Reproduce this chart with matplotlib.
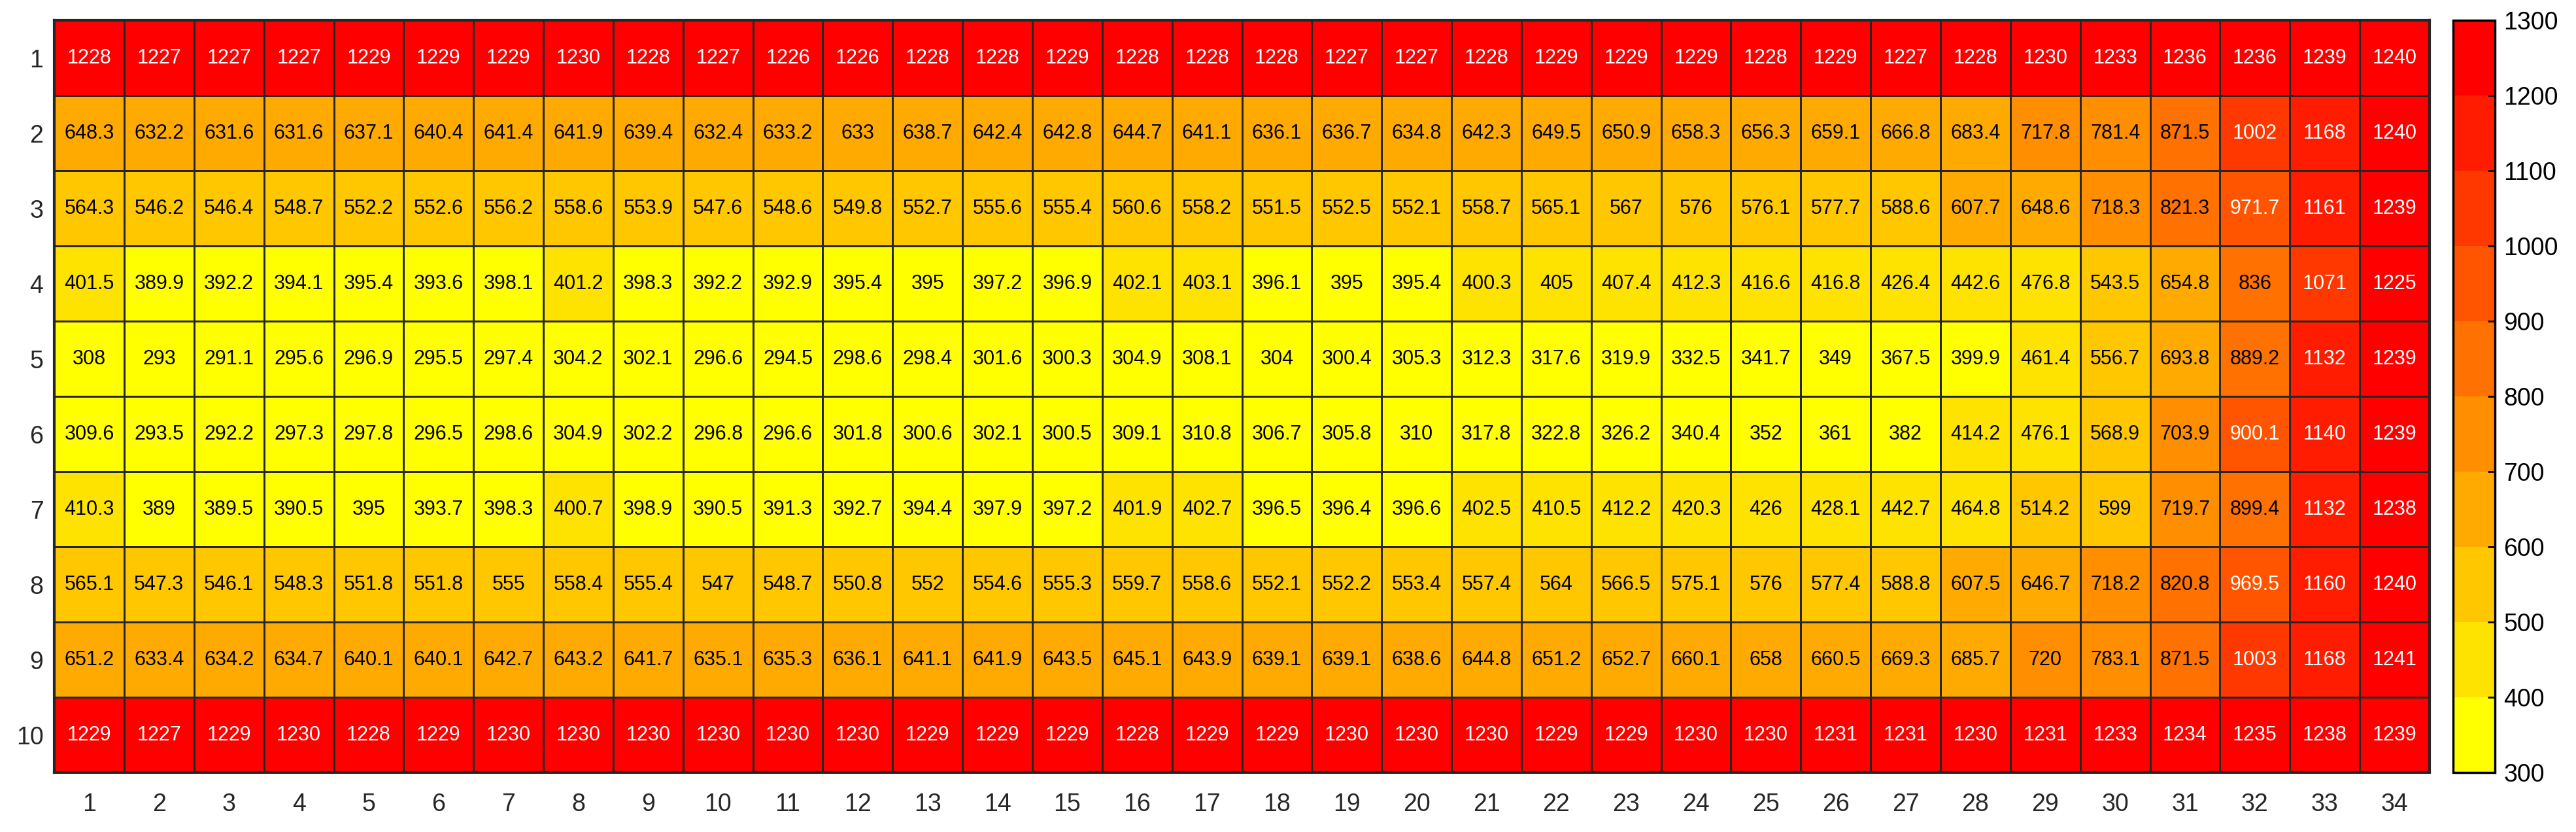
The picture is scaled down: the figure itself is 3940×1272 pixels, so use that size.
import numpy as np
import matplotlib
matplotlib.use('Agg')
import matplotlib.pyplot as plt
from matplotlib.colors import ListedColormap, BoundaryNorm

plt.rcParams['font.family'] = ['Liberation Sans', 'DejaVu Sans']

# valores por fila (fila 1 arriba)
fila1 = [1228, 1227, 1227, 1227, 1229, 1229, 1229, 1230, 1228, 1227, 1226, 1226, 1228, 1228, 1229, 1228, 1228,
         1228, 1227, 1227, 1228, 1229, 1229, 1229, 1228, 1229, 1227, 1228, 1230, 1233, 1236, 1236, 1239, 1240]
fila2 = [648.3, 632.2, 631.6, 631.6, 637.1, 640.4, 641.4, 641.9, 639.4, 632.4, 633.2, 633, 638.7, 642.4, 642.8, 644.7, 641.1,
         636.1, 636.7, 634.8, 642.3, 649.5, 650.9, 658.3, 656.3, 659.1, 666.8, 683.4, 717.8, 781.4, 871.5, 1002, 1168, 1240]
fila3 = [564.3, 546.2, 546.4, 548.7, 552.2, 552.6, 556.2, 558.6, 553.9, 547.6, 548.6, 549.8, 552.7, 555.6, 555.4, 560.6, 558.2,
         551.5, 552.5, 552.1, 558.7, 565.1, 567, 576, 576.1, 577.7, 588.6, 607.7, 648.6, 718.3, 821.3, 971.7, 1161, 1239]
fila4 = [401.5, 389.9, 392.2, 394.1, 395.4, 393.6, 398.1, 401.2, 398.3, 392.2, 392.9, 395.4, 395, 397.2, 396.9, 402.1, 403.1,
         396.1, 395, 395.4, 400.3, 405, 407.4, 412.3, 416.6, 416.8, 426.4, 442.6, 476.8, 543.5, 654.8, 836, 1071, 1225]
fila5 = [308, 293, 291.1, 295.6, 296.9, 295.5, 297.4, 304.2, 302.1, 296.6, 294.5, 298.6, 298.4, 301.6, 300.3, 304.9, 308.1,
         304, 300.4, 305.3, 312.3, 317.6, 319.9, 332.5, 341.7, 349, 367.5, 399.9, 461.4, 556.7, 693.8, 889.2, 1132, 1239]
fila6 = [309.6, 293.5, 292.2, 297.3, 297.8, 296.5, 298.6, 304.9, 302.2, 296.8, 296.6, 301.8, 300.6, 302.1, 300.5, 309.1, 310.8,
         306.7, 305.8, 310, 317.8, 322.8, 326.2, 340.4, 352, 361, 382, 414.2, 476.1, 568.9, 703.9, 900.1, 1140, 1239]
fila7 = [410.3, 389, 389.5, 390.5, 395, 393.7, 398.3, 400.7, 398.9, 390.5, 391.3, 392.7, 394.4, 397.9, 397.2, 401.9, 402.7,
         396.5, 396.4, 396.6, 402.5, 410.5, 412.2, 420.3, 426, 428.1, 442.7, 464.8, 514.2, 599, 719.7, 899.4, 1132, 1238]
fila8 = [565.1, 547.3, 546.1, 548.3, 551.8, 551.8, 555, 558.4, 555.4, 547, 548.7, 550.8, 552, 554.6, 555.3, 559.7, 558.6,
         552.1, 552.2, 553.4, 557.4, 564, 566.5, 575.1, 576, 577.4, 588.8, 607.5, 646.7, 718.2, 820.8, 969.5, 1160, 1240]
fila9 = [651.2, 633.4, 634.2, 634.7, 640.1, 640.1, 642.7, 643.2, 641.7, 635.1, 635.3, 636.1, 641.1, 641.9, 643.5, 645.1, 643.9,
         639.1, 639.1, 638.6, 644.8, 651.2, 652.7, 660.1, 658, 660.5, 669.3, 685.7, 720, 783.1, 871.5, 1003, 1168, 1241]
fila10 = [1229, 1227, 1229, 1230, 1228, 1229, 1230, 1230, 1230, 1230, 1230, 1230, 1229, 1229, 1229, 1228, 1229,
          1229, 1230, 1230, 1230, 1229, 1229, 1230, 1230, 1231, 1231, 1230, 1231, 1233, 1234, 1235, 1238, 1239]

etiquetas_x = [str(i) for i in range(1, 35)]
etiquetas_y = [str(i) for i in range(1, 11)]
niveles = list(range(300, 1400, 100))

datos = np.array([fila1, fila2, fila3, fila4, fila5, fila6, fila7, fila8, fila9, fila10])
n_filas, n_cols = datos.shape

# colormap discreto amarillo -> rojo (10 niveles)
colores = plt.cm.autumn_r(np.linspace(0, 1, 10))
cmap = ListedColormap(colores)
norm = BoundaryNorm(niveles, cmap.N)

fig = plt.figure(figsize=(39.41, 12.72), dpi=100)
ax = fig.add_axes([0.0211, 0.0715, 0.9218, 0.9041])

malla = ax.pcolormesh(np.arange(n_cols + 1) + 0.5, np.arange(n_filas + 1) + 0.5, datos,
                      cmap=cmap, norm=norm, edgecolors='#262626', linewidth=2.0)
ax.set_xlim(0.5, n_cols + 0.5)
ax.set_ylim(n_filas + 0.5, 0.5)

# textos en cada celda
for i in range(n_filas):
    for j in range(n_cols):
        v = datos[i, j]
        color = 'white' if v >= 900 else 'black'
        ax.text(j + 1, i + 1, '{:.4g}'.format(v), ha='center', va='center',
                fontsize=22, color=color)

ax.set_xticks(np.arange(1, n_cols + 1))
ax.set_xticklabels(etiquetas_x)
ax.set_yticks(np.arange(1, n_filas + 1))
ax.set_yticklabels(etiquetas_y)
ax.tick_params(axis='both', length=0, labelsize=27, colors='#262626')
ax.tick_params(axis='x', pad=22)
ax.tick_params(axis='y', pad=12)
for s in ax.spines.values():
    s.set_color('#262626')
    s.set_linewidth(3)

# barra de color
cax = fig.add_axes([0.952, 0.0715, 0.0162, 0.9041])
cb = fig.colorbar(malla, cax=cax, ticks=niveles)
cb.ax.tick_params(labelsize=27, direction='in', length=8, width=2, colors='black', pad=10)
cb.outline.set_linewidth(2.5)

fig.savefig('out.png', dpi=100)
